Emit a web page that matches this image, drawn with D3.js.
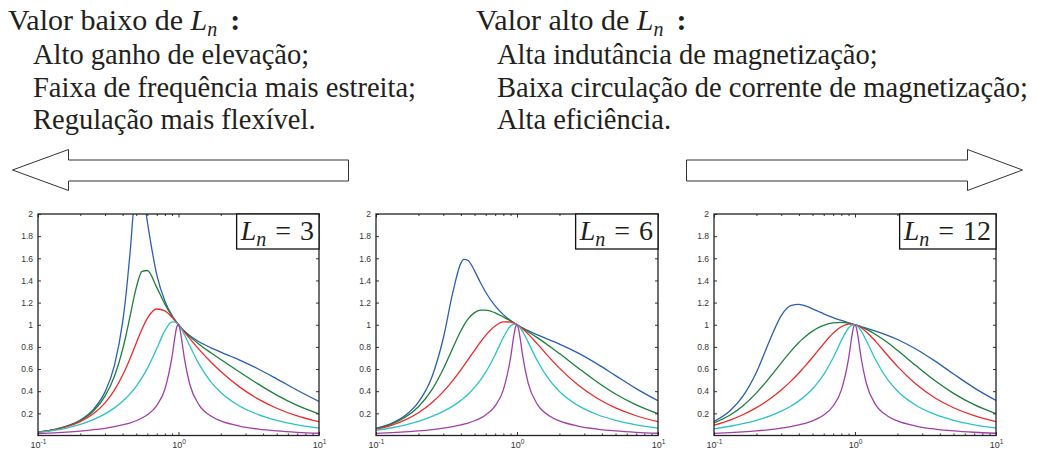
<!DOCTYPE html>
<html><head><meta charset="utf-8">
<script src="https://cdn.jsdelivr.net/npm/d3@7"></script>
<style>body{margin:0;background:#fff} svg{display:block}</style>
</head><body><svg id="c" width="1037" height="450"></svg>
<script>
// normalized switching frequency fn (x axis, log)
const fn = [0.1,0.13,0.16,0.2,0.25,0.3,0.35,0.4,0.42,0.45,0.5,0.55,0.6,0.7,0.8,0.9,0.95,0.975,1,1.025,1.05,1.1,1.2,1.4,1.7,2,2.7,3.7,5,7,10];

// Ln = 3
const ln3Blue    = [0.0311,0.0540,0.0845,0.1399,0.2407,0.3938,0.6335,1.0209,1.2351,1.6213,2.2222,2.2457,1.9303,1.4521,1.2141,1.0823,1.0368,1.0175,1,0.9841,0.9696,0.9439,0.9031,0.8465,0.7919,0.7527,0.6826,0.6006,0.5119,0.4085,0.3073];
const ln3Green   = [0.0309,0.0533,0.0828,0.1351,0.2264,0.3554,0.5347,0.7750,0.8871,1.0641,1.3333,1.4814,1.4900,1.3372,1.1861,1.0778,1.0359,1.0173,1,0.9839,0.9689,0.9415,0.8952,0.8246,0.7469,0.6860,0.5759,0.4635,0.3651,0.2720,0.1951];
const ln3Red     = [0.0303,0.0517,0.0790,0.1252,0.2000,0.2948,0.4100,0.5435,0.6008,0.6888,0.8333,0.9610,1.0576,1.1424,1.1252,1.0671,1.0336,1.0167,1,0.9834,0.9672,0.9356,0.8770,0.7775,0.6631,0.5771,0.4415,0.3289,0.2463,0.1772,0.1245];
const ln3Cyan    = [0.0283,0.0463,0.0674,0.0996,0.1449,0.1949,0.2495,0.3088,0.3340,0.3736,0.4444,0.5218,0.6057,0.7855,0.9467,1.0260,1.0244,1.0146,1,0.9816,0.9603,0.9124,0.8120,0.6440,0.4842,0.3885,0.2685,0.1884,0.1366,0.0964,0.0671];
const ln3Magenta = [0.0170,0.0238,0.0307,0.0400,0.0522,0.0651,0.0793,0.0950,0.1018,0.1128,0.1333,0.1576,0.1870,0.2702,0.4180,0.7136,0.9157,0.9854,1,0.9563,0.8767,0.7018,0.4675,0.2762,0.1757,0.1315,0.0853,0.0581,0.0416,0.0291,0.0202];

// Ln = 6
const ln6Blue    = [0.0634,0.1113,0.1771,0.3005,0.5333,0.8779,1.2875,1.5569,1.5905,1.5796,1.4866,1.3817,1.2936,1.1697,1.0914,1.0384,1.0178,1.0086,1,0.9919,0.9843,0.9704,0.9464,0.9082,0.8635,0.8253,0.7460,0.6466,0.5408,0.4231,0.3134];
const ln6Green   = [0.0615,0.1055,0.1626,0.2603,0.4165,0.6009,0.7884,0.9457,0.9947,1.0522,1.1094,1.1314,1.1325,1.1071,1.0710,1.0345,1.0169,1.0084,1,0.9917,0.9836,0.9677,0.9374,0.8813,0.8061,0.7396,0.6126,0.4837,0.3751,0.2762,0.1967];
const ln6Red     = [0.0575,0.0944,0.1383,0.2052,0.2981,0.3966,0.4963,0.5936,0.6312,0.6855,0.7692,0.8426,0.9041,0.9888,1.0255,1.0250,1.0148,1.0079,1,0.9913,0.9818,0.9614,0.9165,0.8245,0.7034,0.6080,0.4573,0.3359,0.2493,0.1783,0.1249];
const ln6Cyan    = [0.0466,0.0700,0.0945,0.1282,0.1718,0.2173,0.2656,0.3172,0.3390,0.3731,0.4339,0.5001,0.5721,0.7298,0.8850,0.9884,1.0060,1.0058,1,0.9894,0.9747,0.9363,0.8431,0.6700,0.4993,0.3975,0.2720,0.1897,0.1371,0.0966,0.0671];
const ln6Magenta = [0.0193,0.0258,0.0323,0.0413,0.0532,0.0659,0.0798,0.0952,0.1020,0.1128,0.1330,0.1570,0.1859,0.2677,0.4123,0.7006,0.9025,0.9774,1,0.9635,0.8875,0.7125,0.4732,0.2782,0.1764,0.1319,0.0854,0.0582,0.0416,0.0291,0.0202];

// Ln = 12
const ln12Blue    = [0.1276,0.2239,0.3523,0.5704,0.8677,1.0828,1.1719,1.1840,1.1791,1.1672,1.1433,1.1199,1.0989,1.0649,1.0388,1.0178,1.0086,1.0042,1,0.9959,0.9919,0.9842,0.9696,0.9425,0.9042,0.8666,0.7815,0.6713,0.5556,0.4303,0.3163];
const ln12Green   = [0.1139,0.1854,0.2674,0.3846,0.5287,0.6558,0.7594,0.8395,0.8656,0.8993,0.9428,0.9737,0.9950,1.0170,1.0211,1.0141,1.0077,1.0040,1,0.9957,0.9911,0.9814,0.9599,0.9125,0.8389,0.7689,0.6317,0.4938,0.3800,0.2782,0.1974];
const ln12Red     = [0.0931,0.1395,0.1875,0.2520,0.3322,0.4112,0.4888,0.5644,0.5940,0.6374,0.7067,0.7711,0.8294,0.9230,0.9815,1.0051,1.0057,1.0035,1,0.9952,0.9893,0.9748,0.9376,0.8500,0.7249,0.6239,0.4651,0.3392,0.2507,0.1788,0.1251];
const ln12Cyan    = [0.0605,0.0835,0.1065,0.1376,0.1776,0.2197,0.2644,0.3125,0.3329,0.3647,0.4216,0.4839,0.5517,0.7021,0.8562,0.9706,0.9971,1.0014,1,0.9933,0.9820,0.9487,0.8594,0.6834,0.5068,0.4019,0.2736,0.1903,0.1374,0.0967,0.0672];
const ln12Magenta = [0.0200,0.0263,0.0328,0.0416,0.0533,0.0659,0.0797,0.0951,0.1018,0.1125,0.1327,0.1564,0.1852,0.2663,0.4092,0.6941,0.8961,0.9734,1,0.9672,0.8931,0.7179,0.4761,0.2791,0.1767,0.1320,0.0855,0.0582,0.0416,0.0292,0.0202];

const lnLabels = ["3", "6", "12"];
const yTicks = [0.2,0.4,0.6,0.8,1,1.2,1.4,1.6,1.8,2];
const xMajor = [0.1, 1, 10];
const xMajorExp = ["-1", "0", "1"];
const xMinor = [0.2,0.3,0.4,0.5,0.6,0.7,0.8,0.9,2,3,4,5,6,7,8,9];
const seriesColors = ["#2b5fb0", "#1d7f3c", "#ee2a2a", "#2cc3c6", "#a13fa6"];

const leftLines = ["Alto ganho de elevação;", "Faixa de frequência mais estreita;", "Regulação mais flexível."];
const rightLines = ["Alta indutância de magnetização;", "Baixa circulação de corrente de magnetização;", "Alta eficiência."];

const panelSeries = [
  [ln3Blue, ln3Green, ln3Red, ln3Cyan, ln3Magenta],
  [ln6Blue, ln6Green, ln6Red, ln6Cyan, ln6Magenta],
  [ln12Blue, ln12Green, ln12Red, ln12Cyan, ln12Magenta]
];

const svg = d3.select("#c");
const serif = "'Liberation Serif','Times New Roman',serif";
const sans = "'Liberation Sans',Arial,sans-serif";
const ink = "#231f20";
const headSize = 28.5;

// ---------- header text ----------
function heading(x, y, word) {
  const t = svg.append("text").attr("x", x).attr("y", y)
    .attr("font-family", serif).attr("font-size", 30).attr("fill", ink);
  t.append("tspan").text(word + " de ");
  t.append("tspan").attr("font-style", "italic").text("L");
  t.append("tspan").attr("font-style", "italic").attr("font-size", 20).attr("dy", 6).text("n");
  t.append("tspan").attr("dy", -6).attr("dx", 13).attr("font-weight", "bold").text(":");
}
heading(8, 30, "Valor baixo");
heading(476, 30, "Valor alto");
leftLines.forEach((s, i) => svg.append("text").attr("x", 33).attr("y", 64 + i * 32.5)
  .attr("font-family", serif).attr("font-size", headSize).attr("fill", ink).text(s));
rightLines.forEach((s, i) => svg.append("text").attr("x", 497).attr("y", 64 + i * 32.5)
  .attr("font-family", serif).attr("font-size", headSize).attr("fill", ink).text(s));

// ---------- arrows ----------
svg.append("path").attr("d", "M12.5,170 L68.5,149.5 L68.5,160 L348.5,160 L348.5,181 L68.5,181 L68.5,190.5 Z")
  .attr("fill", "#fff").attr("stroke", "#333").attr("stroke-width", 1);
svg.append("path").attr("d", "M686.5,160 L967.5,160 L967.5,149.5 L1022.5,170 L967.5,190.5 L967.5,181 L686.5,181 Z")
  .attr("fill", "#fff").attr("stroke", "#333").attr("stroke-width", 1);

// ---------- panels ----------
const panelX = [[38, 319], [376, 658], [714, 996]];
const plotTop = 214, plotBottom = 435.5;

panelSeries.forEach((series, p) => {
  const [x0, x1] = panelX[p];
  const x = d3.scaleLog().domain([0.1, 10]).range([x0, x1]);
  const y = d3.scaleLinear().domain([0, 2]).range([plotBottom, plotTop]);
  const g = svg.append("g");

  const clipId = "clip" + p;
  svg.append("clipPath").attr("id", clipId).append("rect")
    .attr("x", x0).attr("y", plotTop).attr("width", x1 - x0).attr("height", plotBottom - plotTop);

  const line = d3.line().x((d, i) => x(fn[i])).y(d => y(d)).curve(d3.curveMonotoneX);
  const lg = g.append("g").attr("clip-path", `url(#${clipId})`);
  series.forEach((vals, k) => {
    lg.append("path").datum(vals).attr("d", line)
      .attr("fill", "none").attr("stroke", seriesColors[k]).attr("stroke-width", 1.3);
  });

  const styleAxis = sel => {
    sel.select(".domain").remove();
    sel.selectAll(".tick line").attr("stroke", "#333").attr("stroke-width", 1);
    sel.selectAll(".tick text").attr("font-family", sans).attr("font-size", 8.5).attr("fill", "#333");
  };

  g.append("g").attr("transform", `translate(${x0},0)`)
    .call(d3.axisLeft(y).tickValues(yTicks).tickSize(-3).tickPadding(5).tickFormat(d3.format("")))
    .call(styleAxis);
  g.append("g").attr("transform", `translate(${x1},0)`)
    .call(d3.axisRight(y).tickValues(yTicks).tickSize(-3).tickFormat(""))
    .call(styleAxis);
  const bx = g.append("g").attr("transform", `translate(0,${plotBottom})`)
    .call(d3.axisBottom(x).tickValues(xMajor).tickSize(-3.5).tickPadding(6).tickFormat(() => ""))
    .call(styleAxis);
  bx.selectAll(".tick text").each(function (d, i) {
    const t = d3.select(this).text(null).attr("dy", "0.71em").attr("font-size", 9);
    t.append("tspan").text("10");
    t.append("tspan").attr("font-size", 6.5).attr("dy", -4).text(xMajorExp[i]);
  });
  g.append("g").attr("transform", `translate(0,${plotBottom})`)
    .call(d3.axisBottom(x).tickValues(xMinor).tickSize(-2).tickFormat(""))
    .call(styleAxis);
  g.append("g").attr("transform", `translate(0,${plotTop})`)
    .call(d3.axisTop(x).tickValues(xMajor).tickSize(-3.5).tickFormat(""))
    .call(styleAxis);
  g.append("g").attr("transform", `translate(0,${plotTop})`)
    .call(d3.axisTop(x).tickValues(xMinor).tickSize(-2).tickFormat(""))
    .call(styleAxis);

  g.append("rect").attr("x", x0).attr("y", plotTop).attr("width", x1 - x0).attr("height", plotBottom - plotTop)
    .attr("fill", "none").attr("stroke", "#222").attr("stroke-width", 1.3);

  const lbl = g.append("g");
  const t = lbl.append("text").attr("y", 240).attr("font-family", serif).attr("font-size", 28).attr("fill", ink);
  t.append("tspan").attr("font-style", "italic").text("L");
  t.append("tspan").attr("font-style", "italic").attr("font-size", 20).attr("dy", 6).text("n");
  t.append("tspan").attr("dy", -6).attr("dx", 9).text("=");
  t.append("tspan").attr("dx", 9).text(lnLabels[p]);
  const bb = t.node().getBBox();
  const bw = bb.width + 8;
  t.attr("x", x1 - bw + 4);
  lbl.insert("rect", "text").attr("x", x1 - bw).attr("y", plotTop).attr("width", bw).attr("height", 35)
    .attr("fill", "#fff").attr("stroke", "#111").attr("stroke-width", 1.3);
});
</script>
</body></html>
